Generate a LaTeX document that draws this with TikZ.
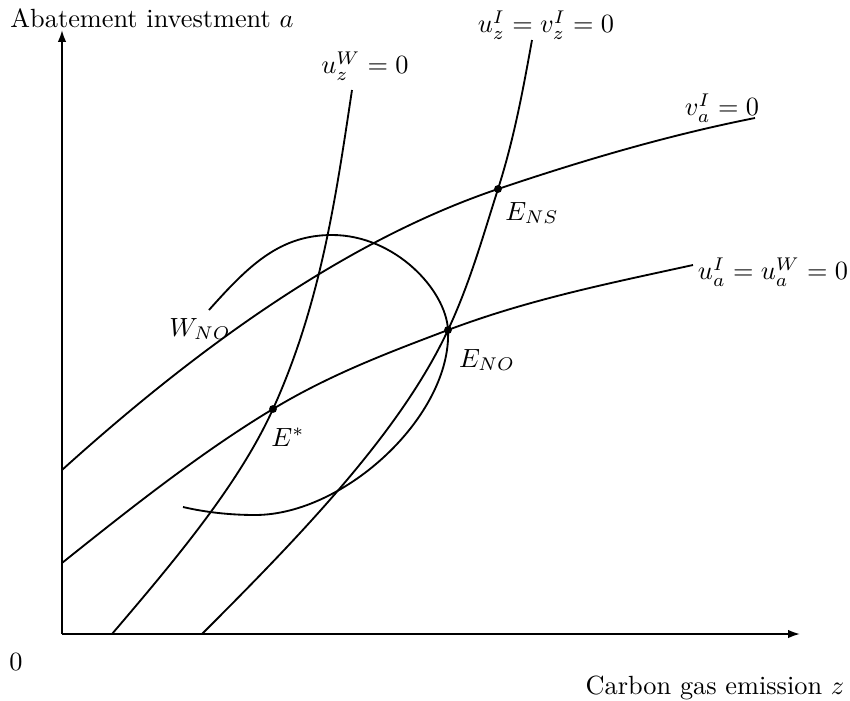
\documentclass[tikz,border=0pt]{standalone}
\usetikzlibrary{arrows.meta}
\begin{document}
\begin{tikzpicture}[x=0.38pt,y=-0.38pt,
  curve/.style={line width=0.7pt},
  axis/.style={line width=0.7pt,-{Latex[length=4.5pt,width=3.2pt]}},
  eqdot/.style={circle, fill=black, inner sep=0pt, minimum size=3pt},
  lab/.style={inner sep=0pt}]
\useasboundingbox (0,0) rectangle (850,701);
% axes
\coordinate (O) at (62,634);
\coordinate (Ytip) at (62,30);
\coordinate (Xtip) at (800,634);
\draw[axis] (O) -- (Ytip);
\draw[axis] (O) -- (Xtip);
\node[lab] (zero) at (16,662) {$0$};
\node[lab] (ylab) at (152,18) {Abatement investment $a$};
\node[lab] (xlab) at (715,688) {Carbon gas emission $z$};
% equilibrium points
\coordinate (Estar) at (273,409);
\coordinate (ENO) at (448,330);
\coordinate (ENS) at (498,189);
% curve end points
\coordinate (vaS) at (62,470);   \coordinate (vaE) at (755,118);
\coordinate (uaS) at (62,563);   \coordinate (uaE) at (693,265);
\coordinate (uzWS) at (112,634); \coordinate (uzWE) at (352,90);
\coordinate (uzIS) at (202,634); \coordinate (uzIE) at (532,40);
\coordinate (wS) at (209,310);   \coordinate (wTop) at (332,235);
\coordinate (wBot) at (255,515); \coordinate (wE) at (183,507);
% v_a^I = 0
\draw[curve] (vaS) .. controls (207,339) and (353,238) .. (ENS)
  .. controls (584,160) and (669,135) .. (vaE);
\node[lab] (va) at (722,108) {$v_a^I=0$};
% u_a^I = u_a^W = 0
\draw[curve] (uaS) .. controls (132,507) and (203,451) .. (Estar)
  .. controls (331,374) and (390,352) .. (ENO)
  .. controls (530,299) and (611,283) .. (uaE);
\node[lab] (ua) at (773,272) {$u_a^I=u_a^W=0$};
% u_z^W = 0
\draw[curve] (uzWS) .. controls (176,559) and (239,484) .. (Estar)
  .. controls (321,303) and (336,196) .. (uzWE);
\node[lab] (uzW) at (365,66) {$u_z^W=0$};
% u_z^I = v_z^I = 0
\draw[curve] (uzIS) .. controls (303,533) and (401,431) .. (ENO)
  .. controls (470,283) and (483,236) .. (ENS)
  .. controls (514,139) and (523,90) .. (uzIE);
\node[lab] (uzI) at (546,25) {$u_z^I=v_z^I=0$};
% W_NO contour
\draw[curve] (wS) .. controls (249,265) and (280,235) .. (wTop)
  .. controls (395,235) and (446,290) .. (ENO)
  .. controls (452,415) and (345,515) .. (wBot)
  .. controls (225,515) and (200,511) .. (wE);
\node[lab] (WNO) at (200,329) {$W_{NO}$};
% dots and labels
\node[eqdot] (dEstar) at (Estar) {};
\node[eqdot] (dENO) at (ENO) {};
\node[eqdot] (dENS) at (ENS) {};
\node[lab] (lEstar) at (288,437) {$E^{*}$};
\node[lab] (lENO) at (487,360) {$E_{NO}$};
\node[lab] (lENS) at (532,213) {$E_{NS}$};
\end{tikzpicture}
\end{document}
